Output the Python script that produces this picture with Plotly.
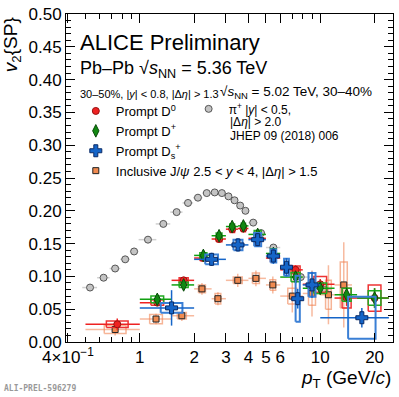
import numpy as np
import plotly.graph_objects as go

# pi+ v2, Pb-Pb 5.02 TeV 30-40% (JHEP 09 (2018) 006)
pion_pt = [0.53, 0.63, 0.73, 0.83, 0.93, 1.11, 1.35, 1.60, 1.85, 2.10, 2.35, 2.60,
           2.85, 3.10, 3.35, 3.60, 3.85, 4.25, 4.70, 5.50, 7.80, 10.5]
pion_v2 = [0.083, 0.098, 0.112, 0.126, 0.138, 0.156, 0.180, 0.198, 0.212, 0.220, 0.227, 0.228,
           0.227, 0.222, 0.216, 0.208, 0.200, 0.182, 0.166, 0.144, 0.099, 0.080]
pion_ex = [0.05, 0.05, 0.05, 0.05, 0.05, 0.125, 0.125, 0.125, 0.125, 0.125, 0.125, 0.125,
           0.125, 0.125, 0.125, 0.125, 0.125, 0.25, 0.25, 0.5, 1.0, 1.0]

# prompt D0
d0_lo = [0.5, 1.0, 1.5, 2.0, 2.5, 3.0, 3.5, 4.0, 5.0, 6.0, 8.0, 12.0, 16.0]
d0_hi = [1.0, 1.5, 2.0, 2.5, 3.0, 3.5, 4.0, 5.0, 6.0, 8.0, 12.0, 16.0, 24.0]
d0_pt = [0.75, 1.25, 1.75, 2.25, 2.75, 3.25, 3.75, 4.5, 5.5, 7.3, 10.0, 14.0, 20.0]
d0_v2 = [0.027, 0.060, 0.094, 0.128, 0.157, 0.172, 0.173, 0.158, 0.128, 0.110, 0.088, 0.067, 0.067]
d0_stat = [0.009, 0.004, 0.004, 0.004, 0.004, 0.004, 0.004, 0.004, 0.005, 0.007, 0.008, 0.012, 0.015]
d0_syst = [0.005, 0.004, 0.004, 0.004, 0.004, 0.005, 0.005, 0.006, 0.006, 0.006, 0.012, 0.015, 0.020]

# prompt D+
dp_lo = [1.0, 1.5, 2.0, 2.5, 3.0, 3.5, 4.0, 5.0, 6.0, 8.0, 12.0, 16.0]
dp_hi = [1.5, 2.0, 2.5, 3.0, 3.5, 4.0, 5.0, 6.0, 8.0, 12.0, 16.0, 24.0]
dp_pt = [1.25, 1.75, 2.25, 2.75, 3.25, 3.75, 4.5, 5.5, 7.3, 10.0, 14.0, 20.0]
dp_v2 = [0.065, 0.087, 0.132, 0.162, 0.176, 0.177, 0.164, 0.135, 0.099, 0.082, 0.072, 0.067]
dp_stat = [0.006, 0.005, 0.005, 0.005, 0.005, 0.005, 0.006, 0.007, 0.008, 0.010, 0.012, 0.015]
dp_syst = [0.005, 0.004, 0.004, 0.004, 0.004, 0.004, 0.006, 0.007, 0.007, 0.008, 0.010, 0.011]

# prompt Ds+
ds_lo = [1.0, 2.0, 3.0, 4.0, 5.0, 6.0, 7.0, 8.0, 10.0]
ds_hi = [2.0, 3.0, 4.0, 5.0, 6.0, 7.0, 8.0, 10.0, 24.0]
ds_pt = [1.5, 2.5, 3.5, 4.5, 5.5, 6.5, 7.5, 9.0, 17.0]
ds_v2 = [0.052, 0.126, 0.148, 0.156, 0.131, 0.114, 0.066, 0.087, 0.037]
ds_stat = [0.027, 0.010, 0.010, 0.010, 0.012, 0.014, 0.015, 0.020, 0.015]
ds_syst = [0.0075, 0.0075, 0.008, 0.010, 0.010, 0.013, 0.035, 0.018, 0.032]

# inclusive J/psi, 2.5 < y < 4
jp_lo = [0.5, 1.0, 1.5, 2.0, 2.5, 3.0, 4.0, 5.0, 6.0, 8.0, 10.0, 12.0]
jp_hi = [1.0, 1.5, 2.0, 2.5, 3.0, 4.0, 5.0, 6.0, 8.0, 10.0, 12.0, 15.0]
jp_pt = [0.73, 1.23, 1.71, 2.21, 2.71, 3.49, 4.40, 5.46, 7.0, 9.0, 11.1, 13.5]
jp_v2 = [0.019, 0.035, 0.040, 0.081, 0.066, 0.094, 0.097, 0.087, 0.070, 0.074, 0.072, 0.087]
jp_stat = [0.009, 0.008, 0.008, 0.009, 0.010, 0.010, 0.012, 0.013, 0.025, 0.035, 0.045, 0.065]
jp_syst = [0.006, 0.007, 0.005, 0.006, 0.008, 0.005, 0.008, 0.008, 0.012, 0.018, 0.022, 0.035]

x_ticks = [0.4, 1, 2, 3, 4, 5, 6, 10, 20]
x_ticktext = ['4\u00d710<sup>\u22121</sup>', '1', '2', '3', '4', '5', '6', '10', '20']
x_minor = [0.5, 0.6, 0.7, 0.8, 0.9, 7, 8, 9]

FONT = 'Liberation Sans'


def syst_boxes(pt, lo, hi, v2, syst, frac=0.2):
    xs, ys = [], []
    for p, a, b, v, s in zip(pt, lo, hi, v2, syst):
        half = frac * (np.log10(b) - np.log10(a))
        x0 = 10 ** (np.log10(p) - half)
        x1 = 10 ** (np.log10(p) + half)
        xs += [x0, x1, x1, x0, x0, None]
        ys += [v - s, v - s, v + s, v + s, v - s, None]
    return xs, ys


def add_series(fig, name, pt, lo, hi, v2, stat, syst, color, bar_color, box_color,
               symbol, size, mline, box_width=1.5):
    bx, by = syst_boxes(pt, lo, hi, v2, syst)
    fig.add_trace(go.Scatter(x=bx, y=by, mode='lines', showlegend=False, hoverinfo='skip',
                             line=dict(color=box_color, width=box_width)))
    fig.add_trace(go.Scatter(
        x=pt, y=v2, mode='markers', name=name, legend='legend',
        marker=dict(symbol=symbol, size=size, color=color, line=dict(color=mline, width=1)),
        error_x=dict(type='data', symmetric=False,
                     array=[b - p for p, b in zip(pt, hi)],
                     arrayminus=[p - a for p, a in zip(pt, lo)],
                     color=bar_color, thickness=1.5, width=0),
        error_y=dict(type='data', array=stat, color=bar_color, thickness=1.5, width=0),
    ))


fig = go.Figure()

fig.add_trace(go.Scatter(
    x=pion_pt, y=pion_v2, mode='markers', legend='legend2',
    name='\u03c0<sup>+</sup> |<i>y</i>| < 0.5,',
    marker=dict(symbol='circle', size=7, color='#c4c4c4', line=dict(color='#555555', width=1)),
    error_x=dict(type='data', array=pion_ex, color='#d0d0d0', thickness=1.5, width=0),
))

add_series(fig, 'Inclusive J/<i>\u03c8</i> 2.5 < <i>y</i> < 4, |\u0394<i>\u03b7</i>| > 1.5',
           jp_pt, jp_lo, jp_hi, jp_v2, jp_stat, jp_syst,
           '#f08a50', 'rgba(240,130,80,0.55)', 'rgba(240,130,80,0.6)', 'square', 6, '#222222')
add_series(fig, 'Prompt D<sup>0</sup>', d0_pt, d0_lo, d0_hi, d0_v2, d0_stat, d0_syst,
           '#ee2222', '#ee2222', '#ee3333', 'circle', 7, '#991111')
add_series(fig, 'Prompt D<sup>+</sup>', dp_pt, dp_lo, dp_hi, dp_v2, dp_stat, dp_syst,
           '#118811', '#11a011', '#22aa22', 'diamond-tall', 9, '#0a4a0a')
add_series(fig, 'Prompt D<sub>s</sub><sup>+</sup>', ds_pt, ds_lo, ds_hi, ds_v2, ds_stat, ds_syst,
           '#1565c8', '#1565c8', '#3a7fd5', 'cross', 10, '#0a2a66', box_width=2)

# legend order: D0, D+, Ds, J/psi
order = {'Prompt D<sup>0</sup>': 1, 'Prompt D<sup>+</sup>': 2, 'Prompt D<sub>s</sub><sup>+</sup>': 3}
for tr in fig.data:
    if tr.legend == 'legend' and tr.showlegend is not False:
        tr.legendrank = order.get(tr.name, 4)

annotations = [
    dict(text='ALICE Preliminary', x=0.038, y=0.912, font=dict(size=22)),
    dict(text='Pb\u2013Pb \u221a<i>s</i><sub>NN</sub> = 5.36 TeV', x=0.038, y=0.832, font=dict(size=18)),
    dict(text='30\u201350%, |<i>y</i>| < 0.8, |\u0394<i>\u03b7</i>| > 1.3', x=0.038, y=0.757, font=dict(size=11)),
    dict(text='\u221a<i>s</i><sub>NN</sub> = 5.02 TeV, 30\u201340%', x=0.466, y=0.761, font=dict(size=13.5)),
    dict(text='|\u0394<i>\u03b7</i>| > 2.0', x=0.494, y=0.67, font=dict(size=12)),
    dict(text='JHEP 09 (2018) 006', x=0.494, y=0.628, font=dict(size=12)),
    dict(text='<i>v</i><sub>2</sub>{SP}', x=-0.165, y=0.905, textangle=-90, xanchor='center', font=dict(size=19)),
    dict(text='<i>p</i><sub>T</sub> (GeV/<i>c</i>)', x=1.0, y=-0.113, xanchor='right', font=dict(size=19)),
    dict(text='<b>ALI-PREL-596279</b>', x=-0.197, y=-0.143, font=dict(size=8, color='#999999', family='DejaVu Sans Mono')),
]
for a in annotations:
    a.setdefault('xanchor', 'left')
    a.update(xref='paper', yref='paper', yanchor='middle', showarrow=False)

fig.update_layout(
    width=399, height=397,
    margin=dict(l=66, r=5, t=6, b=55),
    plot_bgcolor='white', paper_bgcolor='white',
    font=dict(family=FONT, color='black', size=12),
    annotations=annotations,
    legend=dict(x=0.03, y=0.75, xanchor='left', yanchor='top', bgcolor='rgba(0,0,0,0)',
                font=dict(size=13), tracegroupgap=0, itemwidth=30),
    legend2=dict(x=0.375, y=0.755, xanchor='left', yanchor='top', bgcolor='rgba(0,0,0,0)',
                 font=dict(size=12), itemwidth=30),
)

fig.update_xaxes(
    type='log', range=[np.log10(0.39), np.log10(25.3)],
    tickvals=x_ticks, ticktext=x_ticktext, tickfont=dict(size=17),
    ticks='inside', ticklen=9, tickcolor='black', showline=True, linecolor='black',
    linewidth=1, mirror='ticks', showgrid=False, zeroline=False, ticklabeloverflow='allow',
    minor=dict(tickvals=x_minor, ticks='inside', ticklen=5, tickcolor='black'),
)
fig.update_yaxes(
    range=[0, 0.5], dtick=0.05, tickformat='.2f', tickfont=dict(size=17),
    ticks='inside', ticklen=9, tickcolor='black', showline=True, linecolor='black',
    linewidth=1, mirror='ticks', showgrid=False, zeroline=False, ticklabeloverflow='allow',
    minor=dict(dtick=0.01, ticks='inside', ticklen=5, tickcolor='black'),
)

fig.write_html('out.html', config={'displayModeBar': False},
               post_script="document.body.style.margin='0';document.body.style.overflow='hidden';")
